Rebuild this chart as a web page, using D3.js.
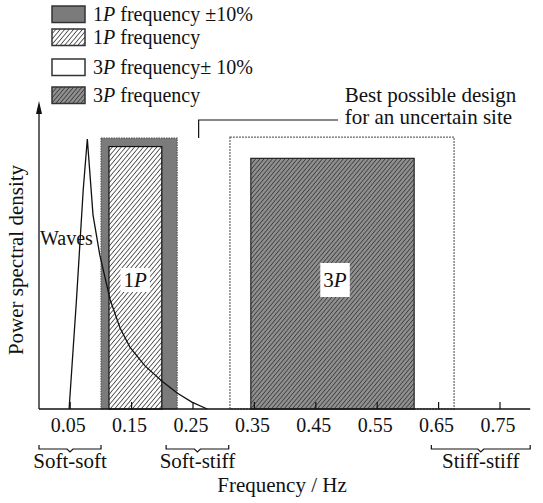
<!DOCTYPE html>
<html>
<head>
<meta charset="utf-8">
<script src="https://cdn.jsdelivr.net/npm/d3@7"></script>
<style>
  body { margin: 0; background: #fff; }
  svg { display: block; }
  text { font-family: "Liberation Serif", "Times New Roman", serif; fill: #111; }
</style>
</head>
<body>
<div id="wrapper"></div>
<script>
// data
const tickValues = [0.05, 0.15, 0.25, 0.35, 0.45, 0.55, 0.65, 0.75];
const legendLabels = ["1P frequency \u00b110%", "1P frequency", "3P frequency\u00b1 10%", "3P frequency"];
const band1P10 = [0.101, 0.225];
const band1P = [0.114, 0.200];
const band3P10 = [0.311, 0.676];
const band3P = [0.345, 0.611];
const bandTops = [0.897, 0.869, 0.900, 0.830];
const waveFreq = [0.049, 0.061, 0.072, 0.0787, 0.088, 0.099, 0.116, 0.132, 0.148, 0.173, 0.200, 0.225, 0.249, 0.274];
const wavePsd  = [0.000, 0.361, 0.725, 0.894, 0.642, 0.510, 0.361, 0.268, 0.205, 0.142, 0.093, 0.053, 0.023, 0.000];
const regionNames = ["Soft-soft", "Soft-stiff", "Stiff-stiff"];
const regionRanges = [[0.0, 0.101], [0.207, 0.309], [0.639, 0.80]];
const designFreq = 0.26;
const designNote = ["Best possible design", "for an uncertain site"];

function drawChart() {
    const dimensions = { width: 543, height: 503 };

    const svg = d3.select("#wrapper").append("svg")
        .attr("width", dimensions.width)
        .attr("height", dimensions.height);

    const xScale = d3.scaleLinear().domain([0, 0.8]).range([39, 530.2]);
    const yScale = d3.scaleLinear().domain([0, 1]).range([409, 107]);

    // hatch patterns
    const defs = svg.append("defs");
    const hatch = (id, bg, fg, gap) => {
        const p = defs.append("pattern")
            .attr("id", id)
            .attr("patternUnits", "userSpaceOnUse")
            .attr("width", gap).attr("height", gap)
            .attr("patternTransform", "rotate(40)");
        p.append("rect").attr("width", gap).attr("height", gap).attr("fill", bg);
        p.append("line")
            .attr("x1", 0).attr("y1", 0).attr("x2", 0).attr("y2", gap)
            .attr("stroke", fg).attr("stroke-width", 1.3);
    };
    hatch("hatch-white", "#fff", "#111", 3.4);
    hatch("hatch-gray", "#8f8f8f", "#2a2a2a", 3.2);

    const bands = [
        { r: band1P10, top: bandTops[0], fill: "#7b7b7b", stroke: "#555", dash: "1.5,1" },
        { r: band1P, top: bandTops[1], fill: "url(#hatch-white)", stroke: "#111", dash: null },
        { r: band3P10, top: bandTops[2], fill: "#fff", stroke: "#666", dash: "2,1" },
        { r: band3P, top: bandTops[3], fill: "url(#hatch-gray)", stroke: "#222", dash: null },
    ];
    svg.append("g").selectAll("rect")
        .data(bands)
        .join("rect")
        .attr("x", d => xScale(d.r[0]))
        .attr("width", d => xScale(d.r[1]) - xScale(d.r[0]))
        .attr("y", d => yScale(d.top))
        .attr("height", d => yScale(0) - yScale(d.top))
        .attr("fill", d => d.fill)
        .attr("stroke", d => d.stroke)
        .attr("stroke-width", 1.2)
        .attr("stroke-dasharray", d => d.dash);

    // wave spectrum
    const wave = waveFreq.map((f, i) => [f, wavePsd[i]]);
    svg.append("path")
        .datum(wave)
        .attr("d", d3.line().x(d => xScale(d[0])).y(d => yScale(d[1])).curve(d3.curveLinear))
        .attr("fill", "none")
        .attr("stroke", "#111")
        .attr("stroke-width", 1.3);

    svg.append("text")
        .attr("x", 40).attr("y", 245)
        .attr("font-size", 20)
        .text("Waves");

    // in-box labels 1P / 3P
    const boxLabel = (cx, cy, num, padY) => {
        const g = svg.append("g");
        const t = g.append("text")
            .attr("x", cx).attr("y", cy)
            .attr("text-anchor", "middle")
            .attr("font-size", 21);
        t.append("tspan").text(num);
        t.append("tspan").attr("font-style", "italic").text("P");
        const bb = t.node().getBBox();
        g.insert("rect", "text")
            .attr("x", bb.x - 3).attr("y", bb.y - padY)
            .attr("width", bb.width + 6).attr("height", bb.height + 2 * padY)
            .attr("fill", "#fff");
    };
    boxLabel(xScale(0.1565), 287, "1", 0);
    boxLabel(xScale(0.482), 287, "3", 5);

    // axes
    const axis = svg.append("g").attr("stroke", "#111");
    axis.append("line")
        .attr("x1", xScale(0)).attr("x2", xScale(0.8))
        .attr("y1", yScale(0)).attr("y2", yScale(0))
        .attr("stroke-width", 1.3);
    axis.append("line")
        .attr("x1", xScale(0)).attr("x2", xScale(0))
        .attr("y1", yScale(0)).attr("y2", yScale(1) - 2)
        .attr("stroke-width", 1.3);
    axis.append("path")
        .attr("d", `M${xScale(0)},${yScale(1) - 6} l-3,13 l6,0 z`)
        .attr("fill", "#111").attr("stroke", "none");

    const xAxis = svg.append("g")
        .attr("transform", `translate(0,${yScale(0)})`)
        .call(d3.axisTop(xScale).tickValues(tickValues).tickSize(7).tickFormat(""));
    xAxis.select(".domain").remove();
    xAxis.selectAll(".tick line").attr("stroke", "#111").attr("stroke-width", 1.2);

    svg.append("g").selectAll("text")
        .data(tickValues)
        .join("text")
        .attr("x", d => xScale(d) - 1.5)
        .attr("y", 432)
        .attr("text-anchor", "middle")
        .attr("font-size", 20)
        .text(d => d3.format(".2f")(d));

    // stiffness regions
    const regions = svg.append("g");
    regionRanges.forEach((r, i) => {
        const x1 = xScale(r[0]), x2 = xScale(r[1]), xm = (x1 + x2) / 2;
        regions.append("path")
            .attr("d", `M${x1},445 V449 H${xm - 3} L${xm},452 L${xm + 3},449 H${x2} V445`)
            .attr("fill", "none").attr("stroke", "#111").attr("stroke-width", 1.2);
        regions.append("text")
            .attr("x", xm).attr("y", 468)
            .attr("text-anchor", "middle")
            .attr("font-size", 21)
            .text(regionNames[i]);
    });

    svg.append("text")
        .attr("x", 282).attr("y", 492)
        .attr("text-anchor", "middle")
        .attr("font-size", 21)
        .text("Frequency / Hz");

    svg.append("text")
        .attr("transform", "translate(23,260) rotate(-90)")
        .attr("text-anchor", "middle")
        .attr("font-size", 21)
        .text("Power spectral density");

    // design annotation
    const ay = 120;
    svg.append("path")
        .attr("d", `M${xScale(designFreq)},${yScale(bandTops[0])} V${ay} H${xScale(0.487)}`)
        .attr("fill", "none").attr("stroke", "#111").attr("stroke-width", 1.2);
    svg.append("text")
        .attr("x", xScale(0.498)).attr("y", 101.5)
        .attr("font-size", 21)
        .selectAll("tspan")
        .data(designNote)
        .join("tspan")
        .attr("x", xScale(0.498))
        .attr("dy", (d, i) => i ? 22 : 0)
        .text(d => d);

    // legend
    const legendY = [6, 29, 59, 87];
    const legendFills = ["#7b7b7b", "url(#hatch-white)", "#fff", "url(#hatch-gray)"];
    const legend = svg.append("g");
    legendLabels.forEach((label, i) => {
        legend.append("rect")
            .attr("x", 52).attr("y", legendY[i])
            .attr("width", 33).attr("height", 16.5)
            .attr("fill", legendFills[i])
            .attr("stroke", "#333").attr("stroke-width", 1.5);
        const m = label.match(/^(\d)P(.*)$/);
        const t = legend.append("text")
            .attr("x", 93).attr("y", legendY[i] + 15)
            .attr("font-size", 20);
        t.append("tspan").text(m[1]);
        t.append("tspan").attr("font-style", "italic").text("P");
        t.append("tspan").text(m[2]);
    });
}

drawChart();
</script>
</body>
</html>
